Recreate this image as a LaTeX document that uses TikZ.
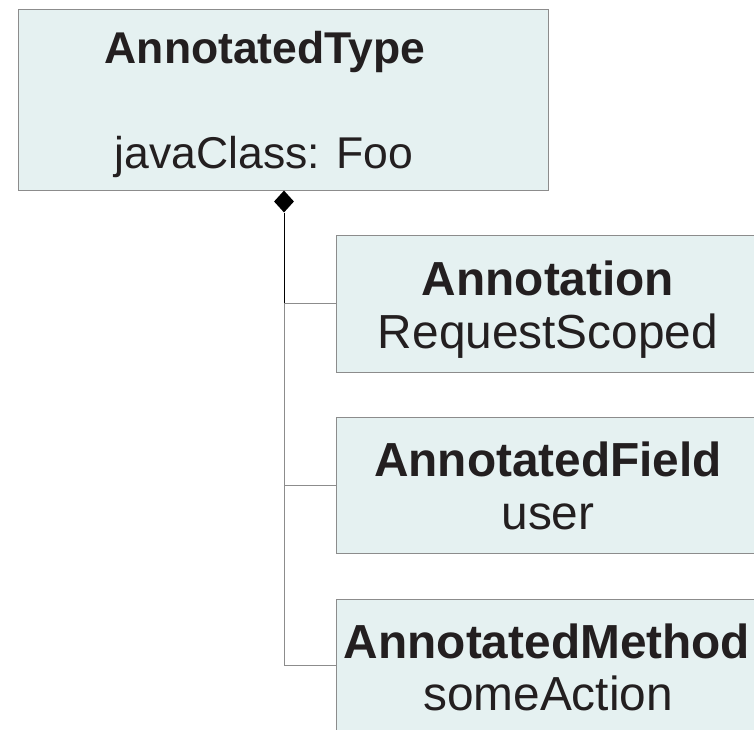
\documentclass[tikz,border=0pt]{standalone}
\usepackage{fontspec}
\setmainfont{Liberation Sans}
\usetikzlibrary{shapes.geometric}
\definecolor{boxfill}{HTML}{E5F1F1}
\definecolor{boxline}{HTML}{8C8C8C}
\definecolor{txt}{HTML}{231F20}
\begin{document}
\begin{tikzpicture}[x=1pt,y=-1pt,
  umlbox/.style={draw=boxline,fill=boxfill,line width=1pt,rectangle,inner sep=0pt,anchor=north west},
  ttl/.style={anchor=base,inner sep=0pt,text=txt,font=\fontsize{44.5}{53}\selectfont\bfseries},
  val/.style={anchor=base,inner sep=0pt,text=txt,font=\fontsize{44.5}{53}\selectfont},
  sttl/.style={anchor=base,inner sep=0pt,text=txt,font=\fontsize{47.8}{53}\selectfont\bfseries},
  sval/.style={anchor=base,inner sep=0pt,text=txt,font=\fontsize{47.8}{53}\selectfont},
  comp/.style={draw=black,line width=1pt},
  link/.style={draw=boxline,line width=1pt}]
\useasboundingbox (0,0) rectangle (754,729);
\clip (0,0) rectangle (754,729);
\node[umlbox,minimum width=530pt,minimum height=181pt] (top) at (18,9) {};
\node[ttl] (topt) at (265,63) {AnnotatedType};
\node[val] (topv) at (264,168) {javaClass: Foo};
\node[umlbox,minimum width=424pt,minimum height=137pt] (b1) at (336,235) {};
\node[sttl] (b1t) at (548,295) {Annotation};
\node[sval] (b1v) at (548,348) {RequestScoped};
\node[umlbox,minimum width=424pt,minimum height=136pt] (b2) at (336,417) {};
\node[sttl] (b2t) at (548,476) {AnnotatedField};
\node[sval] (b2v) at (548,529) {user};
\node[umlbox,minimum width=424pt,minimum height=137pt] (b3) at (336,599) {};
\node[sttl] (b3t) at (547,658) {AnnotatedMethod};
\node[sval] (b3v) at (548,710) {someAction};
\node[diamond,fill=black,inner sep=0pt,minimum width=20pt,minimum height=22pt] (dia) at (284,201.5) {};
\coordinate (j1) at (284,303);
\coordinate (j2) at (284,485);
\coordinate (j3) at (284,665);
\draw[link] (j1) -- (j3);
\draw[link] (j1) -- (j1 -| b1.west);
\draw[link] (j2) -- (j2 -| b2.west);
\draw[link] (j3) -- (j3 -| b3.west);
\draw[comp] (dia.south) -- (j1);
\end{tikzpicture}
\end{document}
